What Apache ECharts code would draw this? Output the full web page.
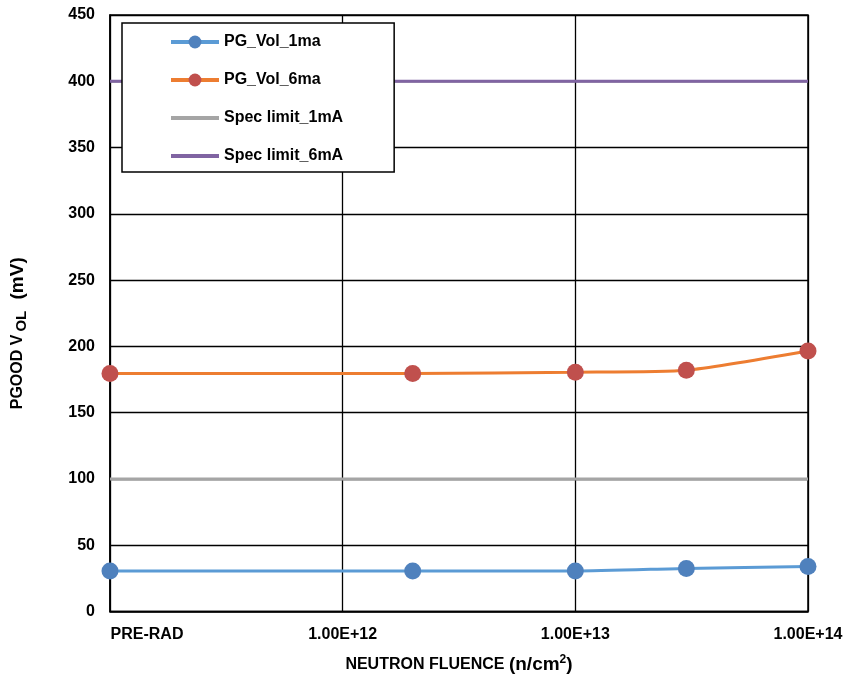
<!DOCTYPE html>
<html><head><meta charset="utf-8">
<script src="https://cdn.jsdelivr.net/npm/echarts@6/dist/echarts.min.js"></script>
<style>html,body{margin:0;padding:0;background:#fff}#c{width:846px;height:679px}</style>
</head><body><div id="c"></div>
<script>
var fluence = [1e11, 2e12, 1e13, 3e13, 1e14];
var xTickLabels = {11: 'PRE-RAD', 12: '1.00E+12', 13: '1.00E+13', 14: '1.00E+14'};
var pgVol1ma = [30.5, 30.5, 30.5, 32.5, 34];
var pgVol6ma = [179.5, 179.5, 180.5, 182, 196.5];
var specLimit1mA = [100, 100, 100, 100, 100];
var specLimit6mA = [400, 400, 400, 400, 400];
var seriesNames = ['PG_Vol_1ma', 'PG_Vol_6ma', 'Spec limit_1mA', 'Spec limit_6mA'];

function pairs(vals){ return fluence.map(function(f,i){ return [f, vals[i]]; }); }
var font = '"Liberation Sans", Arial, sans-serif';
var chart = echarts.init(document.getElementById('c'));
chart.setOption({
  animation: false,
  backgroundColor: '#fff',
  grid: {left: 110, right: 38, top: 15, bottom: 67, show: true, borderColor: '#000', borderWidth: 1.5},
  legend: {
    z: 20, zlevel: 0,
    orient: 'vertical', left: 122, top: 23,
    padding: [11, 51, 8, 47], itemGap: 22, itemWidth: 48, itemHeight: 16,
    backgroundColor: '#fff', borderColor: '#000', borderWidth: 1.5,
    lineStyle: {width: 4},
    textStyle: {fontFamily: font, fontWeight: 'bold', fontSize: 16, color: '#000'},
    data: [
      {name: seriesNames[0]},
      {name: seriesNames[1]},
      {name: seriesNames[2], itemStyle: {opacity: 0}},
      {name: seriesNames[3], itemStyle: {opacity: 0}}
    ]
  },
  xAxis: {
    type: 'log', logBase: 10, min: 1e11, max: 1e14,
    axisLine: {lineStyle: {color: '#000', width: 1.5}},
    axisTick: {show: false},
    splitLine: {show: true, lineStyle: {color: '#000', width: 1.3}},
    axisLabel: {
      margin: 15, color: '#000',
      fontFamily: font, fontWeight: 'bold', fontSize: 16,
      formatter: function(v){
        var e = Math.round(Math.log(v)/Math.LN10);
        var t = xTickLabels[e] || '';
        if (e === 11) return '{l|' + t + '}';
        return t;
      },
      rich: {l: {padding: [0, 0, 0, 74], fontFamily: font, fontWeight: 'bold', fontSize: 16, color: '#000'}}
    },
    name: '{a|NEUTRON FLUENCE }{b|(n/cm}{s|2}{b|)}',
    nameLocation: 'middle', nameGap: 42,
    nameTextStyle: {
      rich: {
        a: {fontFamily: font, fontWeight: 'bold', fontSize: 16, color: '#000'},
        b: {fontFamily: font, fontWeight: 'bold', fontSize: 19, color: '#000'},
        s: {fontFamily: font, fontWeight: 'bold', fontSize: 12, color: '#000', verticalAlign: 'top', padding: [0,0,10,0]}
      }
    }
  },
  yAxis: {
    type: 'value', min: 0, max: 450, interval: 50,
    axisLine: {show: true, lineStyle: {color: '#000', width: 1.5}},
    axisTick: {show: false},
    splitLine: {show: true, lineStyle: {color: '#000', width: 1.3}},
    axisLabel: {margin: 15, color: '#000', fontFamily: font, fontWeight: 'bold', fontSize: 16},
    name: '{a|PGOOD V}{s|OL}{b| (mV)}',
    nameLocation: 'middle', nameGap: 81, nameRotate: 90,
    nameTextStyle: {
      padding: [0, 40, 0, 0],
      rich: {
        a: {fontFamily: font, fontWeight: 'bold', fontSize: 16, color: '#000'},
        s: {fontFamily: font, fontWeight: 'bold', fontSize: 15, color: '#000', verticalAlign: 'bottom', padding: [7,6,0,3]},
        b: {fontFamily: font, fontWeight: 'bold', fontSize: 19, color: '#000'}
      }
    }
  },
  series: [
    {name: seriesNames[0], type: 'line', data: pairs(pgVol1ma), smooth: 0.2,
     symbol: 'circle', symbolSize: 17,
     lineStyle: {color: '#5B9BD5', width: 3}, itemStyle: {color: '#4F81BD'}, z: 5},
    {name: seriesNames[1], type: 'line', data: pairs(pgVol6ma), smooth: 0.2,
     symbol: 'circle', symbolSize: 17,
     lineStyle: {color: '#ED7D31', width: 3}, itemStyle: {color: '#C0504D'}, z: 5},
    {name: seriesNames[2], type: 'line', data: pairs(specLimit1mA), showSymbol: false, symbol: 'none',
     lineStyle: {color: '#A5A5A5', width: 3}, itemStyle: {color: '#A5A5A5'}, z: 4},
    {name: seriesNames[3], type: 'line', data: pairs(specLimit6mA), showSymbol: false, symbol: 'none',
     lineStyle: {color: '#8064A2', width: 3}, itemStyle: {color: '#8064A2'}, z: 4}
  ]
});
</script></body></html>
